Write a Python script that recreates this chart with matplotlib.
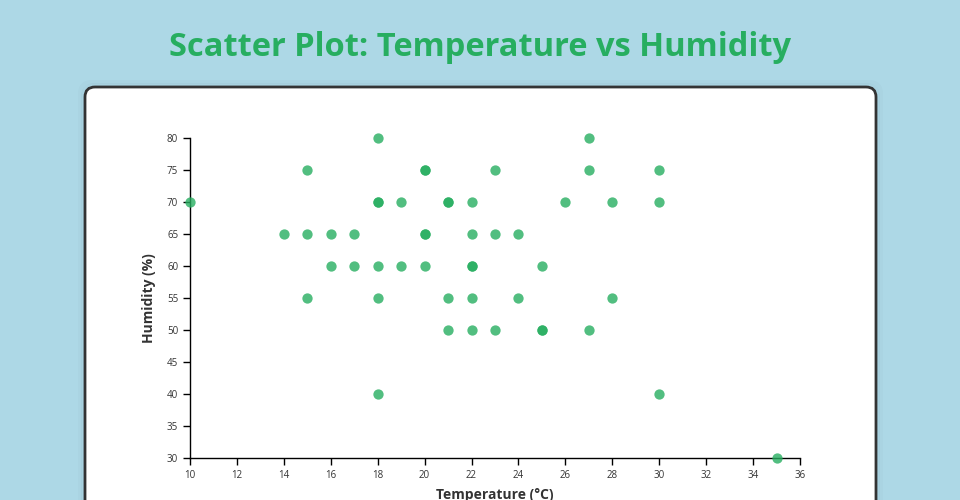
import matplotlib.pyplot as plt
from matplotlib.patches import FancyBboxPatch
from matplotlib.transforms import IdentityTransform

# temperature / humidity readings (duplicates show as darker dots)
temperature = [18, 27,
               15, 20, 20, 23, 27, 30,
               10, 18, 18, 19, 21, 21, 22, 26, 28, 30,
               14, 15, 16, 17, 20, 20, 22, 23, 24,
               16, 17, 18, 19, 20, 22, 22, 25,
               15, 18, 21, 22, 24, 28,
               21, 22, 23, 25, 25, 27,
               18, 30,
               35]
humidity = [80, 80,
            75, 75, 75, 75, 75, 75,
            70, 70, 70, 70, 70, 70, 70, 70, 70, 70,
            65, 65, 65, 65, 65, 65, 65, 65, 65,
            60, 60, 60, 60, 60, 60, 60, 60,
            55, 55, 55, 55, 55, 55,
            50, 50, 50, 50, 50, 50,
            40, 40,
            30]
x_ticks = list(range(10, 37, 2))
y_ticks = list(range(30, 81, 5))

plt.rcParams['font.family'] = ['Open Sans', 'DejaVu Sans']

fig = plt.figure(figsize=(9.6, 5), dpi=100)
fig.patch.set_facecolor('#add8e6')

# white card with dark border, runs off the bottom
for i, a in enumerate([0.025, 0.015]):
    g = 2 + i * 3
    fig.patches.append(FancyBboxPatch((85 - g, -40 - g), 791 + 2 * g, 453 + 2 * g,
                                      boxstyle='round,pad=0,rounding_size=12',
                                      transform=IdentityTransform(),
                                      facecolor='none', edgecolor=(0, 0, 0, a),
                                      linewidth=3, zorder=-3))
card = FancyBboxPatch((85, -40), 791, 453, boxstyle='round,pad=0,rounding_size=10',
                      transform=IdentityTransform(), facecolor='white',
                      edgecolor='#333333', linewidth=2, zorder=-2)
fig.patches.append(card)

fig.text(0.5, 0.905, 'Scatter Plot: Temperature vs Humidity', ha='center', va='center',
         fontsize=23.5, fontweight='bold', color='#27ae60')

ax = fig.add_axes([190 / 960, 42 / 500, 610 / 960, 320 / 500])
ax.set_facecolor('none')
ax.scatter(temperature, humidity, s=55, color='#27ae60', alpha=0.8,
           linewidths=0, clip_on=False, zorder=3)

ax.set_xlim(10, 36)
ax.set_ylim(30, 80)
ax.set_xticks(x_ticks)
ax.set_yticks(y_ticks)
for s in ['top', 'right']:
    ax.spines[s].set_visible(False)
for s in ['left', 'bottom']:
    ax.spines[s].set_linewidth(1)
    ax.spines[s].set_color('black')
ax.tick_params(length=5, width=1, labelsize=7, labelcolor='#333333')

ax.set_xlabel('Temperature (°C)', fontsize=10, fontweight='bold', color='#333333', labelpad=5)
ax.set_ylabel('Humidity (%)', fontsize=10, fontweight='bold', color='#333333', labelpad=8)

fig.savefig('out.png', dpi=100, facecolor=fig.get_facecolor())
